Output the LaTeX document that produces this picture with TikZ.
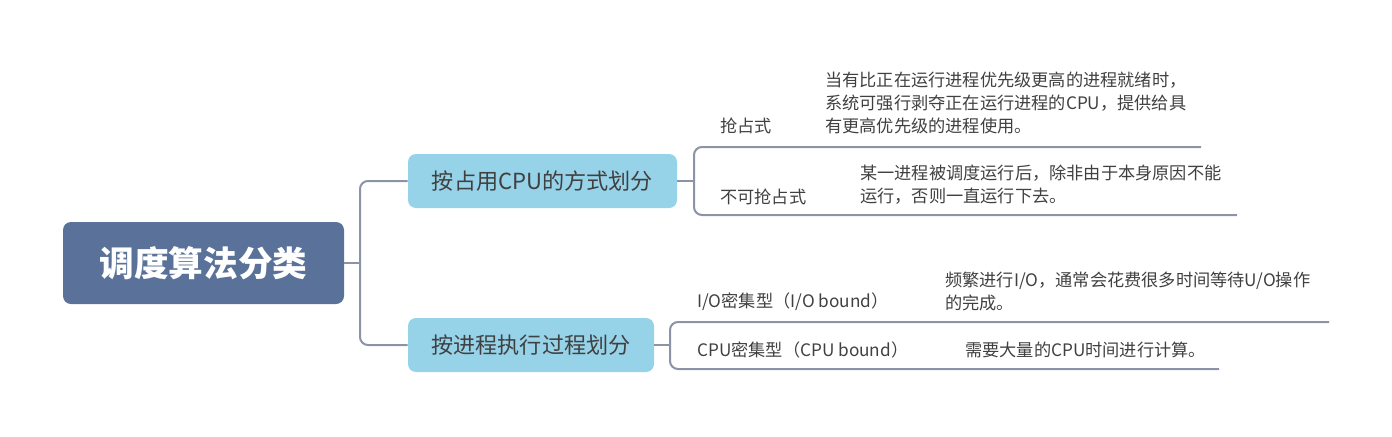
\documentclass[tikz,border=0pt]{standalone}
\usepackage{fontspec}
\setmainfont{Noto Sans CJK SC}
\usepackage{tikz}
\definecolor{rootblue}{RGB}{90,114,153}
\definecolor{subblue}{RGB}{150,210,232}
\definecolor{linkgray}{RGB}{138,148,166}
\definecolor{textgray}{RGB}{64,64,64}
\tikzstyle{rootblock} = [rectangle, fill=rootblue, rounded corners=6pt, text=white, font=\fontsize{26}{30}\selectfont\bfseries, minimum width=210.75pt, minimum height=61.5pt]
\tikzstyle{subblock} = [rectangle, fill=subblue, rounded corners=6pt, text=textgray, font=\fontsize{16.6}{20}\selectfont, minimum height=40.5pt]
\tikzstyle{leaf} = [anchor=west, inner sep=0pt, text=textgray, align=left, font=\fontsize{12.9}{17.25}\selectfont]
\tikzstyle{link} = [draw, linkgray, line width=1.5pt]

\begin{document}
\begin{tikzpicture}[x=0.75pt, y=-0.75pt]
\useasboundingbox (0,0) rectangle (1392,436);

\node [rootblock] at (203.5, 263) (root) {调度算法分类};

% first level
\node [subblock, minimum width=201.75pt] at (542.5, 181) (cpu) {按占用CPU的方式划分};
\node [subblock, minimum width=184.5pt] at (531, 345) (proc) {按进程执行过程划分};
\coordinate (fork1) at (360, 263);
\path [link] (root.east) to (fork1);
\path [link, rounded corners=6pt] (cpu.west) -| (fork1) |- (proc.west);

% preemptive or not
\coordinate (fork2) at (694, 181);
\coordinate (end1) at (1201, 147);
\coordinate (end2) at (1237, 215);
\path [link] (cpu.east) to (fork2);
\path [link, rounded corners=6pt] (end1) -| (fork2) |- (end2);
\node [leaf] at (720, 126) (pre) {抢占式};
\node [leaf] at (825, 103) (predesc) {当有比正在运行进程优先级更高的进程就绪时，\\系统可强行剥夺正在运行进程的CPU，提供给具\\有更高优先级的进程使用。};
\node [leaf] at (720, 197) (nonpre) {不可抢占式};
\node [leaf] at (860, 184.5) (nonpredesc) {某一进程被调度运行后，除非由于本身原因不能\\运行，否则一直运行下去。};

% io or cpu bound
\coordinate (fork3) at (670, 345);
\coordinate (end3) at (1329, 322);
\coordinate (end4) at (1219, 369);
\path [link] (proc.east) to (fork3);
\path [link, rounded corners=6pt] (end3) -| (fork3) |- (end4);
\node [leaf] at (697, 302) (iob) {I/O密集型（I/O bound）};
\node [leaf] at (945, 291) (iobdesc) {频繁进行I/O，通常会花费很多时间等待U/O操作\\的完成。};
\node [leaf] at (697, 350) (cpub) {CPU密集型（CPU bound）};
\node [leaf] at (965, 350) (cpubdesc) {需要大量的CPU时间进行计算。};

\end{tikzpicture}
\end{document}
